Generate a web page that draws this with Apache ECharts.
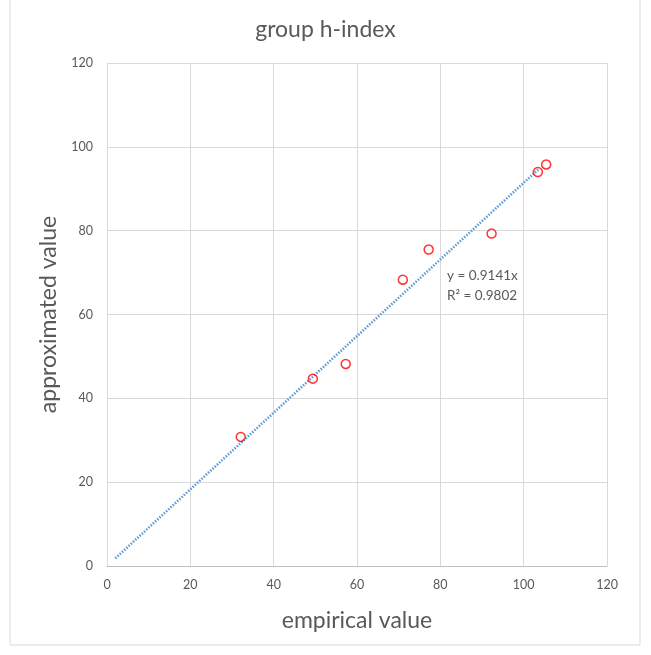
<!DOCTYPE html>
<html><head><meta charset="utf-8">
<script src="https://cdn.jsdelivr.net/npm/echarts@6/dist/echarts.min.js"></script>
<style>html,body{margin:0;padding:0;background:#fff}#c{width:651px;height:655px}</style>
</head><body><div id="c"></div>
<script>
const empirical = [32.1, 49.4, 57.3, 71.0, 77.2, 92.3, 103.4, 105.4];
const approximated = [30.8, 44.7, 48.2, 68.3, 75.5, 79.3, 94.0, 95.8];
const slope = 0.9141;
const trendX = [2, 103.5];
const xTicks = [0, 20, 40, 60, 80, 100, 120];
const yTicks = [0, 20, 40, 60, 80, 100, 120];
const eqText = ['y = 0.9141x', 'R² = 0.9802'];

const font = 'Lato, "Open Sans", sans-serif';
const txt = '#595959';
const chart = echarts.init(document.getElementById('c'));
chart.setOption({
  animation: false,
  backgroundColor: '#fff',
  title: { text: 'group h-index', left: 'center', top: 13,
    textStyle: { fontFamily: font, fontSize: 23, fontWeight: 'normal', color: txt } },
  grid: { left: 107, right: 44, top: 63, bottom: 89 },
  xAxis: { type: 'value', min: 0, max: 120, interval: 20,
    name: 'empirical value', nameLocation: 'middle', nameGap: 43,
    nameTextStyle: { fontFamily: font, fontSize: 23, color: txt },
    axisLine: { show: true, lineStyle: { color: '#bfbfbf' } }, axisTick: { show: false },
    axisLabel: { fontFamily: font, fontSize: 12.5, color: txt, margin: 12 },
    splitLine: { lineStyle: { color: '#d9d9d9' } } },
  yAxis: { type: 'value', min: 0, max: 120, interval: 20,
    name: 'approximated value', nameLocation: 'middle', nameGap: 46,
    nameTextStyle: { fontFamily: font, fontSize: 23, color: txt },
    axisLine: { show: false }, axisTick: { show: false },
    axisLabel: { fontFamily: font, fontSize: 12.5, color: txt, margin: 14 },
    splitLine: { lineStyle: { color: '#d9d9d9' } } },
  series: [
    { type: 'line', data: trendX.map(x => [x, slope * x]), symbol: 'none',
      lineStyle: { color: '#5b9bd5', width: 2.6, type: [1.5, 1.5] }, z: 2 },
    { type: 'scatter', data: empirical.map((x, i) => [x, approximated[i]]),
      symbol: 'circle', symbolSize: 9,
      itemStyle: { color: 'rgba(255,255,255,0)', borderColor: '#ff0000', borderWidth: 1.5 }, z: 3 }
  ],
  graphic: [
    { type: 'rect', shape: { x: 10, y: -5, width: 630, height: 650 },
      style: { fill: 'none', stroke: '#d9d9d9', lineWidth: 1 }, silent: true },
    { type: 'text', left: 447, top: 266,
      style: { text: eqText.join('\n'), fontFamily: font, fontSize: 13.5, fill: txt, lineHeight: 20 } }
  ]
});
</script></body></html>
